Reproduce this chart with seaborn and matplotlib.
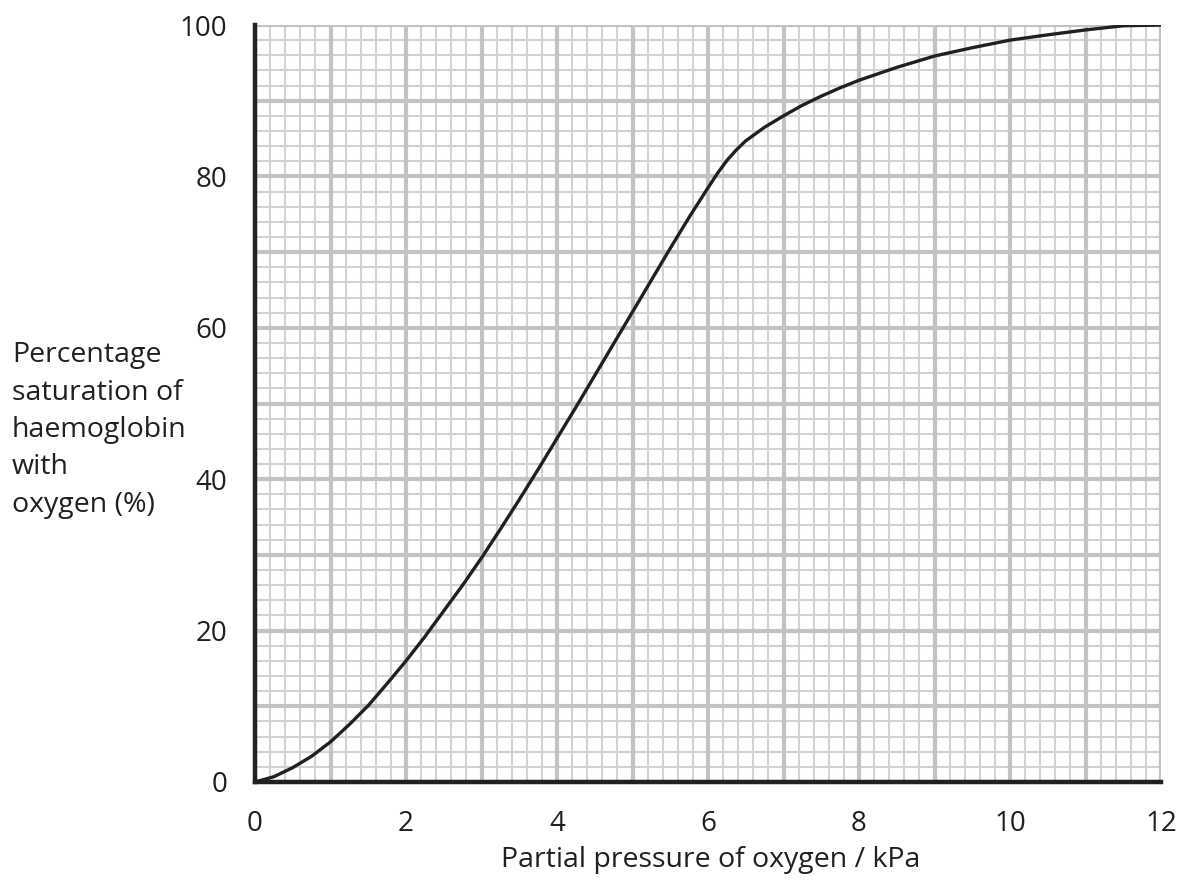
import numpy as np
import pandas as pd
import matplotlib
matplotlib.use("Agg")
import matplotlib.pyplot as plt
import seaborn as sns
from matplotlib.ticker import MultipleLocator

# ////////////////DATA
pressure_kpa = [0, 0.25, 0.5, 0.75, 1, 1.25, 1.5, 1.75, 2, 2.25, 2.5, 2.75, 3, 3.25, 3.5,
                3.75, 4, 4.25, 4.5, 4.75, 5, 5.25, 5.5, 5.75, 6, 6.125, 6.25, 6.375, 6.5,
                6.75, 7, 7.25, 7.5, 7.75, 8, 8.5, 9, 9.5, 10, 10.5, 11, 11.5, 12]
saturation_pct = [0, 0.7, 1.9, 3.4, 5.3, 7.6, 10.1, 13.0, 16.0, 19.2, 22.6, 26.0, 29.6,
                  33.4, 37.3, 41.3, 45.4, 49.5, 53.7, 57.9, 62.1, 66.3, 70.5, 74.6, 78.5,
                  80.4, 82.1, 83.5, 84.7, 86.5, 88.0, 89.4, 90.6, 91.7, 92.7, 94.4, 95.9,
                  97.0, 98.0, 98.7, 99.35, 99.9, 100]
x_ticks = [0, 2, 4, 6, 8, 10, 12]
y_ticks = [0, 20, 40, 60, 80, 100]

df = pd.DataFrame({"pressure": pressure_kpa, "saturation": saturation_pct})

# ////////////////STYLE
sns.set_style("white")
plt.rcParams["font.family"] = ["Open Sans", "DejaVu Sans"]
ink = "#231f20"
major_grey = "#c3c3c6"
minor_grey = "#d2d2d5"

fig = plt.figure(figsize=(11.81, 8.82), dpi=100)
ax = fig.add_axes([255 / 1181, 1 - 782 / 882, (1161 - 255) / 1181, (782 - 25) / 882])

sns.lineplot(data=df, x="pressure", y="saturation", ax=ax, color=ink, linewidth=2.4, zorder=5)

ax.set_xlim(0, 12)
ax.set_ylim(0, 100)

# graph paper grid
ax.xaxis.set_minor_locator(MultipleLocator(0.2))
ax.yaxis.set_minor_locator(MultipleLocator(2))
ax.grid(which="minor", color=minor_grey, linewidth=1.5, zorder=0)
for v in np.arange(0, 12.01, 1):
    ax.axvline(v, color=major_grey, linewidth=3, zorder=1)
for v in np.arange(0, 100.01, 10):
    ax.axhline(v, color=major_grey, linewidth=3, zorder=1)
ax.set_axisbelow(True)

ax.set_xticks(x_ticks)
ax.set_yticks(y_ticks)
ax.tick_params(which="major", direction="out", length=13, width=1.6, color=ink,
               labelsize=20, labelcolor=ink, pad=7)
ax.tick_params(which="minor", length=0)

for side in ["top", "right"]:
    ax.spines[side].set_visible(False)
for side in ["left", "bottom"]:
    ax.spines[side].set_color(ink)
    ax.spines[side].set_linewidth(3.2)
    ax.spines[side].set_zorder(6)

ax.set_xlabel("")
ax.set_ylabel("")

fig.text(12 / 1181, 1 - 430 / 882,
         "Percentage\nsaturation of\nhaemoglobin\nwith\noxygen (%)",
         ha="left", va="center", fontsize=20.5, color=ink, linespacing=1.45)
fig.text(711 / 1181, 1 - 860 / 882, "Partial pressure of oxygen / kPa",
         ha="center", va="center", fontsize=20.5, color=ink)

plt.savefig("out.png", dpi=100)
